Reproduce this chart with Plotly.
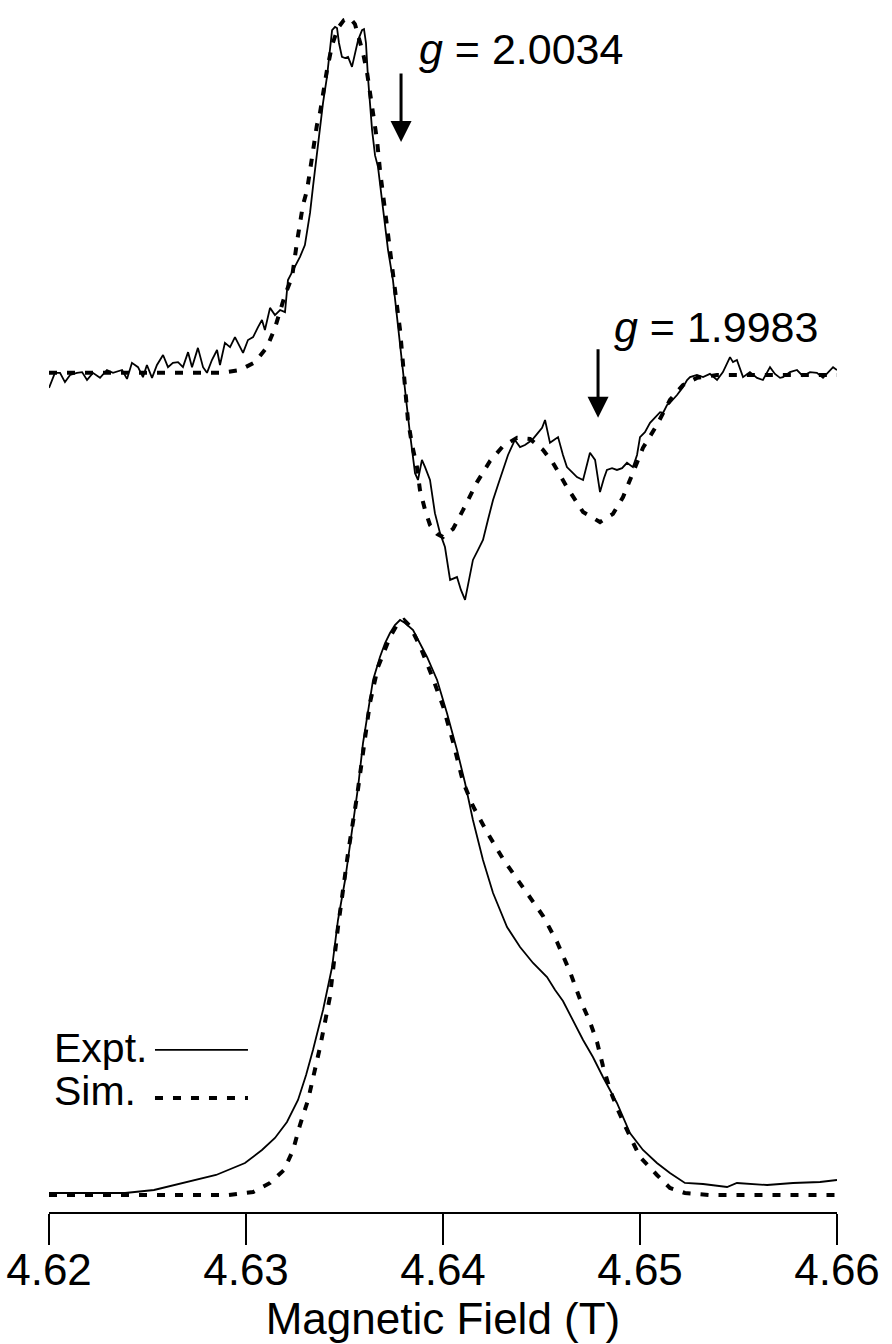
import plotly.graph_objects as go

# ---------------- data ----------------
# Upper panel: first-derivative EPR spectrum (arb. units, baseline 0)
deriv_expt_field = [
    4.62000, 4.62015, 4.62030, 4.62056, 4.62081, 4.62107, 4.62142, 4.62168, 4.62193, 4.62223,
    4.62259, 4.62294, 4.62325, 4.62371, 4.62396, 4.62421, 4.62452, 4.62477, 4.62497, 4.62523,
    4.62548, 4.62579, 4.62604, 4.62629, 4.62655, 4.62680, 4.62706, 4.62726, 4.62756, 4.62782,
    4.62802, 4.62827, 4.62853, 4.62868, 4.62893, 4.62919, 4.62944, 4.62970, 4.62985, 4.63010,
    4.63036, 4.63061, 4.63081, 4.63096, 4.63122, 4.63147, 4.63173, 4.63198, 4.63213, 4.63239,
    4.63274, 4.63299, 4.63325, 4.63340, 4.63376, 4.63391, 4.63411, 4.63426, 4.63437, 4.63452,
    4.63462, 4.63472, 4.63487, 4.63503, 4.63518, 4.63538, 4.63553, 4.63569, 4.63589, 4.63599,
    4.63609, 4.63619, 4.63640, 4.63655, 4.63670, 4.63695, 4.63721, 4.63746, 4.63782, 4.63817,
    4.63832, 4.63858, 4.63873, 4.63893, 4.63909, 4.63934, 4.63959, 4.63985, 4.64010, 4.64036,
    4.64071, 4.64091, 4.64112, 4.64132, 4.64152, 4.64178, 4.64203, 4.64228, 4.64254, 4.64279,
    4.64305, 4.64330, 4.64365, 4.64391, 4.64416, 4.64452, 4.64482, 4.64503, 4.64518, 4.64543,
    4.64563, 4.64584, 4.64609, 4.64629, 4.64655, 4.64680, 4.64711, 4.64731, 4.64746, 4.64772,
    4.64797, 4.64817, 4.64832, 4.64858, 4.64883, 4.64909, 4.64934, 4.64964, 4.64985, 4.65000,
    4.65025, 4.65051, 4.65076, 4.65102, 4.65117, 4.65137, 4.65152, 4.65188, 4.65218, 4.65239,
    4.65254, 4.65289, 4.65320, 4.65355, 4.65391, 4.65421, 4.65457, 4.65472, 4.65492, 4.65508,
    4.65523, 4.65558, 4.65594, 4.65624, 4.65645, 4.65660, 4.65685, 4.65711, 4.65726, 4.65761,
    4.65797, 4.65827, 4.65863, 4.65898, 4.65929, 4.65954, 4.65980, 4.66000,
]
deriv_expt_signal = [
    -0.036, -0.014, 0.006, 0.006, -0.020, 0.000, 0.006, 0.008, -0.014, 0.006,
    -0.008, 0.014, 0.006, 0.014, -0.011, 0.034, 0.022, -0.006, 0.028, -0.008,
    0.028, 0.056, 0.022, 0.034, 0.036, 0.022, 0.064, 0.022, 0.076, 0.022,
    0.006, 0.042, 0.070, 0.028, 0.090, 0.078, 0.106, 0.078, 0.062, 0.098,
    0.106, 0.134, 0.154, 0.126, 0.188, 0.168, 0.182, 0.176, 0.266, 0.294,
    0.331, 0.364, 0.454, 0.527, 0.692, 0.762, 0.835, 0.919, 0.966, 0.975,
    0.972, 0.930, 0.891, 0.888, 0.891, 0.863, 0.902, 0.938, 0.966, 0.969,
    0.930, 0.835, 0.686, 0.615, 0.583, 0.462, 0.350, 0.266, 0.078, -0.090,
    -0.162, -0.275, -0.294, -0.238, -0.258, -0.294, -0.387, -0.443, -0.482, -0.574,
    -0.566, -0.602, -0.630, -0.574, -0.518, -0.490, -0.462, -0.406, -0.350, -0.308,
    -0.266, -0.224, -0.182, -0.202, -0.196, -0.182, -0.162, -0.148, -0.126, -0.190,
    -0.182, -0.174, -0.224, -0.258, -0.272, -0.286, -0.294, -0.252, -0.218, -0.238,
    -0.328, -0.289, -0.266, -0.261, -0.266, -0.261, -0.246, -0.258, -0.224, -0.174,
    -0.160, -0.134, -0.120, -0.104, -0.106, -0.084, -0.078, -0.056, -0.034, -0.014,
    -0.006, 0.000, -0.006, 0.003, -0.014, 0.008, 0.050, 0.036, 0.042, 0.014,
    -0.006, 0.008, -0.008, -0.014, 0.008, 0.022, 0.003, -0.008, -0.006, 0.008,
    0.014, -0.003, 0.008, 0.006, -0.008, 0.008, 0.022, 0.014,
]

deriv_sim_field = [
    4.62000, 4.62513, 4.62766, 4.62878, 4.62970, 4.63046, 4.63107, 4.63147, 4.63198, 4.63234,
    4.63259, 4.63289, 4.63310, 4.63335, 4.63360, 4.63376, 4.63391, 4.63411, 4.63437, 4.63467,
    4.63497, 4.63528, 4.63553, 4.63569, 4.63594, 4.63614, 4.63629, 4.63645, 4.63665, 4.63680,
    4.63706, 4.63731, 4.63756, 4.63782, 4.63802, 4.63822, 4.63843, 4.63868, 4.63883, 4.63909,
    4.63934, 4.63970, 4.64000, 4.64051, 4.64102, 4.64173, 4.64239, 4.64305, 4.64376, 4.64442,
    4.64508, 4.64558, 4.64629, 4.64711, 4.64797, 4.64863, 4.64914, 4.64964, 4.65015, 4.65086,
    4.65152, 4.65218, 4.65289, 4.65391, 4.66000,
]
deriv_sim_signal = [
    0.006, 0.006, 0.006, 0.006, 0.014, 0.036, 0.078, 0.132, 0.224, 0.275,
    0.373, 0.476, 0.518, 0.616, 0.700, 0.736, 0.790, 0.854, 0.924, 0.972,
    0.994, 1.000, 0.983, 0.952, 0.902, 0.849, 0.798, 0.728, 0.658, 0.574,
    0.462, 0.350, 0.238, 0.126, 0.000, -0.126, -0.196, -0.258, -0.322, -0.378,
    -0.420, -0.445, -0.454, -0.431, -0.378, -0.300, -0.241, -0.199, -0.176, -0.179,
    -0.210, -0.246, -0.314, -0.384, -0.412, -0.389, -0.342, -0.275, -0.204, -0.140,
    -0.070, -0.028, -0.008, 0.000, 0.000,
]

# Lower panel: absorption spectrum (normalised)
abs_expt_field = [
    4.62000, 4.62259, 4.62386, 4.62533, 4.62706, 4.62848, 4.62995, 4.63081, 4.63147, 4.63208,
    4.63264, 4.63305, 4.63340, 4.63391, 4.63437, 4.63467, 4.63503, 4.63538, 4.63569, 4.63594,
    4.63619, 4.63645, 4.63680, 4.63706, 4.63731, 4.63756, 4.63782, 4.63807, 4.63848, 4.63883,
    4.63919, 4.63970, 4.64020, 4.64071, 4.64112, 4.64152, 4.64203, 4.64254, 4.64325, 4.64391,
    4.64457, 4.64528, 4.64569, 4.64609, 4.64660, 4.64711, 4.64761, 4.64812, 4.64883, 4.64949,
    4.65015, 4.65086, 4.65152, 4.65228, 4.65320, 4.65442, 4.65492, 4.65645, 4.65777, 4.65914,
    4.66000,
]
abs_expt_signal = [
    0.0035, 0.0035, 0.0035, 0.0087, 0.0226, 0.0348, 0.0557, 0.0783, 0.0991, 0.1270,
    0.1652, 0.2087, 0.2522, 0.3217, 0.3965, 0.4783, 0.5478, 0.6296, 0.7096, 0.7861,
    0.8435, 0.8957, 0.9357, 0.9600, 0.9774, 0.9913, 1.0000, 0.9948, 0.9826, 0.9600,
    0.9357, 0.8957, 0.8383, 0.7739, 0.7165, 0.6522, 0.5826, 0.5252, 0.4661, 0.4313,
    0.4035, 0.3791, 0.3565, 0.3374, 0.3026, 0.2696, 0.2400, 0.2052, 0.1600, 0.1078,
    0.0783, 0.0557, 0.0383, 0.0209, 0.0191, 0.0139, 0.0209, 0.0174, 0.0209, 0.0226,
    0.0261,
]

abs_sim_field = [
    4.62000, 4.62513, 4.62909, 4.63036, 4.63122, 4.63193, 4.63239, 4.63274, 4.63315, 4.63376,
    4.63426, 4.63467, 4.63518, 4.63563, 4.63594, 4.63629, 4.63670, 4.63731, 4.63772, 4.63802,
    4.63832, 4.63883, 4.63944, 4.64000, 4.64051, 4.64102, 4.64152, 4.64223, 4.64305, 4.64376,
    4.64442, 4.64508, 4.64579, 4.64645, 4.64695, 4.64746, 4.64782, 4.64812, 4.64848, 4.64888,
    4.64934, 4.65000, 4.65086, 4.65152, 4.65228, 4.65355, 4.66000,
]
abs_sim_signal = [
    0.0000, 0.0000, 0.0000, 0.0052, 0.0209, 0.0435, 0.0783, 0.1217, 0.1652, 0.2574,
    0.3443, 0.4661, 0.5948, 0.6922, 0.7739, 0.8557, 0.9183, 0.9704, 0.9948, 1.0000,
    0.9896, 0.9548, 0.9026, 0.8504, 0.7878, 0.7183, 0.6765, 0.6313, 0.5843, 0.5496,
    0.5200, 0.4852, 0.4400, 0.3878, 0.3409, 0.3009, 0.2661, 0.2243, 0.1826, 0.1478,
    0.1130, 0.0661, 0.0348, 0.0122, 0.0035, 0.0000, 0.0000,
]

tick_values = [4.62, 4.63, 4.64, 4.65, 4.66]
tick_labels = ["4.62", "4.63", "4.64", "4.65", "4.66"]

# g-value markers: (field, derivative level at arrow tip, label)
g_marker_field = [4.63787, 4.64787]
g_marker_level = [0.653, -0.120]
g_labels = ["<i>g</i> = 2.0034", "<i>g</i> = 1.9983"]

FONT = "Liberation Sans, Arial, Helvetica, sans-serif"
DASH = "8px,10px"

fig = go.Figure()

fig.add_trace(go.Scatter(x=abs_expt_field, y=abs_expt_signal, mode="lines",
                         line=dict(color="black", width=1.8), name="Expt.",
                         showlegend=False, yaxis="y"))
fig.add_trace(go.Scatter(x=abs_sim_field, y=abs_sim_signal, mode="lines",
                         line=dict(color="black", width=4, dash=DASH), name="Sim.",
                         showlegend=False, yaxis="y"))
fig.add_trace(go.Scatter(x=deriv_expt_field, y=deriv_expt_signal, mode="lines",
                         line=dict(color="black", width=1.8), name="Expt.",
                         showlegend=False, yaxis="y2"))
fig.add_trace(go.Scatter(x=deriv_sim_field, y=deriv_sim_signal, mode="lines",
                         line=dict(color="black", width=4, dash=DASH), name="Sim.",
                         showlegend=False, yaxis="y2"))

annotations = []
# arrows and g labels
for fx, lv in zip(g_marker_field, g_marker_level):
    annotations.append(dict(x=fx, y=lv, xref="x", yref="y2", text="", showarrow=True,
                            ax=0, ay=-70, axref="pixel", ayref="pixel",
                            arrowhead=2, arrowsize=1.4, arrowwidth=3, arrowcolor="black"))
label_pos = [(0.467, 0.9596), (0.7145, 0.7302)]
for (px_, py_), txt in zip(label_pos, g_labels):
    annotations.append(dict(x=px_, y=py_, xref="paper", yref="paper", text=txt,
                            showarrow=False, xanchor="left", yanchor="middle",
                            font=dict(family=FONT, size=43, color="black")))
# custom legend (text left, line sample right)
annotations.append(dict(x=0.0038, y=0.1353, xref="paper", yref="paper", text="Expt.",
                        showarrow=False, xanchor="left", yanchor="middle",
                        font=dict(family=FONT, size=41, color="black")))
annotations.append(dict(x=0.0038, y=0.0998, xref="paper", yref="paper", text="Sim.",
                        showarrow=False, xanchor="left", yanchor="middle",
                        font=dict(family=FONT, size=41, color="black")))

shapes = [
    dict(type="line", xref="paper", yref="paper", x0=0.1345, x1=0.2525, y0=0.1337, y1=0.1337,
         line=dict(color="black", width=1.8)),
    dict(type="line", xref="paper", yref="paper", x0=0.1345, x1=0.2525, y0=0.0941, y1=0.0941,
         line=dict(color="black", width=4, dash=DASH)),
]

fig.update_layout(
    width=892, height=1344,
    margin=dict(l=49, r=55, t=0, b=132),
    paper_bgcolor="white", plot_bgcolor="white",
    showlegend=False,
    font=dict(family=FONT, color="black"),
    xaxis=dict(range=[4.62, 4.66], showgrid=False, zeroline=False,
               showline=True, linecolor="black", linewidth=2,
               ticks="outside", ticklen=31, tickwidth=1.5, tickcolor="black",
               tickvals=tick_values, ticktext=tick_labels,
               ticklabelstandoff=-13,
               tickfont=dict(family=FONT, size=44, color="black"),
               title=dict(text="Magnetic Field (T)", font=dict(family=FONT, size=44, color="black"),
                          standoff=10)),
    yaxis=dict(range=[-0.02957, 2.07826], visible=False, fixedrange=True),
    yaxis2=dict(range=[-2.34454, 1.05042], visible=False, overlaying="y", fixedrange=True),
    annotations=annotations,
    shapes=shapes,
)

fig.write_html("out.html")
